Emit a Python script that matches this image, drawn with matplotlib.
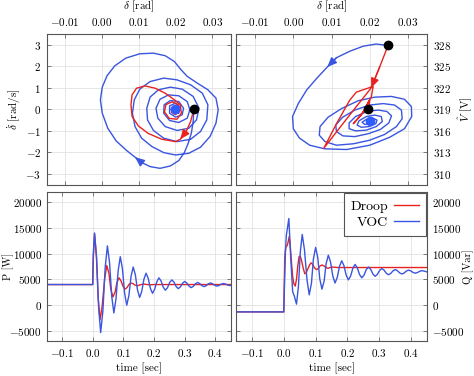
import matplotlib
matplotlib.use("Agg")
import matplotlib.pyplot as plt

plt.rcParams["font.family"] = ["cmr10", "DejaVu Serif"]
plt.rcParams["mathtext.fontset"] = "cm"
plt.rcParams["axes.formatter.use_mathtext"] = True
plt.rcParams["font.size"] = 8

RED = "#e8231f"
BLUE = "#3a55e0"

# top left: delta vs delta-dot
tl_voc_delta = [
    0.0250, 0.0248, 0.0243, 0.0234, 0.0224, 0.0209, 0.0186, 0.0158, 0.0131, 0.0108,
    0.0090, 0.0067, 0.0039, 0.0016, 0.0001, -0.0004, 0.0001, 0.0014, 0.0035, 0.0065,
    0.0103, 0.0140, 0.0172, 0.0197, 0.0215, 0.0232, 0.0259, 0.0288, 0.0310, 0.0316,
    0.0310, 0.0294, 0.0268, 0.0236, 0.0200, 0.0168, 0.0136, 0.0108, 0.0090, 0.0083,
    0.0088, 0.0103, 0.0131, 0.0168, 0.0204, 0.0241, 0.0273, 0.0288, 0.0285, 0.0268,
    0.0241, 0.0204, 0.0168, 0.0140, 0.0124, 0.0122, 0.0131, 0.0154, 0.0186, 0.0218,
    0.0248, 0.0264, 0.0257, 0.0236, 0.0204, 0.0172, 0.0152, 0.0147, 0.0158, 0.0181,
    0.0209, 0.0232, 0.0239, 0.0232, 0.0209, 0.0184, 0.0168, 0.0169, 0.0186, 0.0209,
    0.0222, 0.0218, 0.0200, 0.0184, 0.0184, 0.0200, 0.0213, 0.0209, 0.0195, 0.0188,
    0.0193, 0.0204, 0.0206, 0.0200,
]
tl_voc_ddot = [
    0.00, -0.57, -1.11, -1.60, -2.01, -2.38, -2.63, -2.74, -2.66, -2.47,
    -2.22, -1.91, -1.47, -0.88, -0.18, 0.44, 1.03, 1.56, 2.02, 2.38,
    2.58, 2.61, 2.49, 2.22, 1.84, 1.53, 1.22, 0.91, 0.52, -0.02,
    -0.64, -1.26, -1.76, -2.04, -2.12, -2.01, -1.73, -1.34, -0.80, -0.18,
    0.44, 0.94, 1.29, 1.45, 1.37, 1.14, 0.75, 0.21, -0.49, -1.03,
    -1.39, -1.50, -1.34, -0.98, -0.49, 0.05, 0.57, 0.91, 1.03, 0.94,
    0.60, 0.05, -0.49, -0.88, -0.98, -0.80, -0.41, 0.05, 0.47, 0.67,
    0.63, 0.36, -0.02, -0.41, -0.61, -0.52, -0.18, 0.21, 0.41, 0.36,
    0.05, -0.26, -0.36, -0.18, 0.16, 0.29, 0.10, -0.18, -0.21, 0.00,
    0.12, 0.08, -0.06, 0.00,
]
tl_droop_delta = [
    0.0250, 0.0241, 0.0229, 0.0213, 0.0200, 0.0163, 0.0126, 0.0099, 0.0082, 0.0079,
    0.0082, 0.0094, 0.0117, 0.0145, 0.0172, 0.0195, 0.0213, 0.0216, 0.0204, 0.0183,
    0.0170, 0.0174, 0.0191, 0.0207, 0.0211, 0.0200, 0.0189, 0.0191, 0.0200,
]
tl_droop_ddot = [
    0.00, -0.57, -1.03, -1.39, -1.50, -1.39, -1.12, -0.77, -0.33, 0.21,
    0.67, 0.98, 1.09, 0.98, 0.75, 0.47, 0.21, -0.18, -0.46, -0.42,
    -0.12, 0.22, 0.35, 0.21, -0.08, -0.24, -0.13, 0.06, 0.00,
]

# top right: delta vs V-hat
tr_voc_delta = [
    0.0248, 0.0217, 0.0183, 0.0148, 0.0113, 0.0089, 0.0061, 0.0035, 0.0013, -0.0002,
    0.0000, 0.0016, 0.0043, 0.0082, 0.0139, 0.0200, 0.0252, 0.0291, 0.0310, 0.0309,
    0.0291, 0.0257, 0.0213, 0.0170, 0.0126, 0.0091, 0.0070, 0.0068, 0.0083, 0.0113,
    0.0157, 0.0200, 0.0239, 0.0270, 0.0285, 0.0283, 0.0265, 0.0235, 0.0200, 0.0161,
    0.0129, 0.0111, 0.0113, 0.0130, 0.0161, 0.0196, 0.0228, 0.0250, 0.0257, 0.0245,
    0.0222, 0.0193, 0.0163, 0.0146, 0.0146, 0.0163, 0.0191, 0.0217, 0.0233, 0.0230,
    0.0213, 0.0191, 0.0172, 0.0167, 0.0178, 0.0198, 0.0216, 0.0219, 0.0207, 0.0191,
    0.0180, 0.0187, 0.0202, 0.0209, 0.0200,
]
tr_voc_v = [
    327.9, 328.1, 327.8, 327.1, 326.2, 324.9, 323.3, 321.7, 319.8, 318.0,
    316.3, 315.0, 314.0, 313.5, 313.4, 314.0, 315.1, 316.3, 318.0, 319.4,
    320.4, 320.8, 320.7, 320.2, 319.1, 317.9, 316.6, 315.4, 314.5, 314.0,
    314.2, 314.7, 315.5, 316.6, 317.7, 318.9, 319.6, 319.8, 319.6, 318.9,
    317.9, 316.8, 315.9, 315.3, 315.2, 315.6, 316.2, 317.1, 318.1, 318.7,
    318.9, 318.7, 318.0, 317.1, 316.3, 316.0, 316.1, 316.6, 317.3, 318.0,
    318.2, 318.0, 317.4, 316.8, 316.5, 316.6, 317.0, 317.5, 317.8, 317.6,
    317.2, 316.9, 317.0, 317.4, 317.4,
]
tr_droop_delta = [
    0.0248, 0.0226, 0.0204, 0.0143, 0.0080, 0.0113, 0.0148, 0.0165, 0.0209, 0.0204,
    0.0196, 0.0187, 0.0157, 0.0178, 0.0200, 0.0198, 0.0196,
]
tr_droop_v = [
    327.9, 324.9, 322.0, 317.9, 313.6, 317.0, 320.3, 321.4, 322.2, 320.7,
    320.0, 318.9, 317.0, 318.2, 320.3, 319.4, 319.0,
]

# bottom: time series
t_p_voc = [
    -0.15, 0.000, 0.002, 0.006, 0.0127, 0.0193, 0.026, 0.0333, 0.0407, 0.048,
    0.055, 0.062, 0.069, 0.076, 0.083, 0.090, 0.097, 0.104, 0.111, 0.118,
    0.125, 0.132, 0.139, 0.146, 0.153, 0.160, 0.167, 0.174, 0.181, 0.188,
    0.195, 0.202, 0.209, 0.216, 0.223, 0.230, 0.237, 0.244, 0.251, 0.258,
    0.265, 0.272, 0.279, 0.286, 0.293, 0.300, 0.307, 0.314, 0.321, 0.328,
    0.335, 0.342, 0.349, 0.356, 0.363, 0.370, 0.377, 0.384, 0.391, 0.398,
    0.405, 0.412, 0.419, 0.426, 0.433, 0.440, 0.447, 0.45,
]
p_voc = [
    4000, 4000, 10000, 14000, 9175, -475, -5300, -1100, 7300, 11500,
    8250, 1750, -1500, 1225, 6675, 9400, 7050, 2350, 0, 1850,
    5550, 7400, 5925, 2975, 1500, 2675, 5025, 6200, 5225, 3275,
    2300, 3050, 4550, 5300, 4700, 3500, 2900, 3400, 4400, 4900,
    4475, 3625, 3200, 3550, 4250, 4600, 4300, 3700, 3400, 3650,
    4150, 4400, 4200, 3800, 3600, 3775, 4125, 4300, 4150, 3850,
    3700, 3825, 4075, 4200, 4100, 3900, 3800, 3850,
]
t_p_droop = [
    -0.15, 0.000, 0.002, 0.006, 0.012, 0.018, 0.024, 0.031, 0.039, 0.046,
    0.053, 0.059, 0.066, 0.073, 0.079, 0.086, 0.092, 0.099, 0.105, 0.112,
    0.118, 0.125, 0.132, 0.138, 0.145, 0.155, 0.165, 0.185, 0.200, 0.45,
]
p_droop = [
    4000, 4000, 9000, 13800, 9650, 1350, -2800, -175, 5075, 7700,
    6175, 3125, 1600, 2525, 4375, 5300, 4750, 3650, 3100, 3400,
    4000, 4300, 4160, 3890, 3750, 3950, 4100, 3950, 4000, 4000,
]
t_q_voc = [
    -0.15, 0.000, 0.005, 0.008, 0.016, 0.022, 0.028, 0.033, 0.040, 0.046,
    0.052, 0.058, 0.065, 0.073, 0.080, 0.087, 0.093, 0.100, 0.107, 0.113,
    0.120, 0.127, 0.133, 0.140, 0.147, 0.154, 0.161, 0.168, 0.175, 0.182,
    0.189, 0.196, 0.203, 0.210, 0.217, 0.224, 0.231, 0.238, 0.245, 0.252,
    0.259, 0.266, 0.273, 0.280, 0.287, 0.294, 0.301, 0.308, 0.315, 0.322,
    0.329, 0.336, 0.343, 0.350, 0.357, 0.364, 0.371, 0.378, 0.385, 0.392,
    0.399, 0.406, 0.413, 0.420, 0.427, 0.434, 0.441, 0.45,
]
q_voc = [
    -1300, -1300, 10000, 13500, 16800, 9000, 2600, 1800, 200, 3575,
    10325, 13700, 10775, 4925, 2000, 4300, 8900, 11200, 9175, 5125,
    3100, 4750, 8050, 9700, 8350, 5650, 4300, 5375, 7525, 8600,
    7675, 5825, 4900, 5650, 7150, 7900, 7250, 5950, 5300, 5825,
    6875, 7400, 6950, 6050, 5600, 5975, 6725, 7100, 6800, 6200,
    5900, 6150, 6650, 6900, 6690, 6260, 6050, 6240, 6610, 6800,
    6650, 6350, 6200, 6325, 6575, 6700, 6600, 6450,
]
t_q_droop = [
    -0.15, 0.000, 0.003, 0.006, 0.011, 0.014, 0.017, 0.020, 0.024, 0.028,
    0.032, 0.036, 0.040, 0.044, 0.048, 0.052, 0.056, 0.061, 0.066, 0.070,
    0.076, 0.082, 0.086, 0.091, 0.097, 0.103, 0.108, 0.114, 0.120, 0.126,
    0.133, 0.139, 0.146, 0.152, 0.160, 0.170, 0.45,
]
q_droop = [
    -1300, -1300, 9000, 11200, 11600, 12300, 13300, 11800, 8500, 5500,
    4100, 3700, 5000, 7600, 9400, 9500, 8600, 7200, 6100, 6200,
    7100, 7900, 8200, 7900, 7200, 6900, 7100, 7600, 7800, 7600,
    7300, 7150, 7300, 7400, 7350, 7300, 7300,
]


def style(ax):
    ax.grid(True, color="#e2e2e2", lw=0.6)
    ax.set_axisbelow(True)
    for s in ax.spines.values():
        s.set_color("#555555")
        s.set_linewidth(0.8)
    ax.tick_params(direction="in", length=3, width=0.6, color="#666666",
                   top=True, bottom=True, left=True, right=True, pad=4)


def arrow(ax, xs, ys, i, color):
    ax.annotate("", xy=(xs[i], ys[i]), xytext=(xs[i - 1], ys[i - 1]),
                arrowprops=dict(arrowstyle="-|>,head_length=0.7,head_width=0.3",
                                color=color, lw=1, shrinkA=0, shrinkB=0))


fig = plt.figure(figsize=(4.74, 3.76), dpi=100)
ax_tl = fig.add_axes([0.0985, 0.5088, 0.3882, 0.4008])
ax_tr = fig.add_axes([0.4979, 0.5088, 0.4030, 0.4008])
ax_bl = fig.add_axes([0.0985, 0.0923, 0.3882, 0.3979])
ax_br = fig.add_axes([0.4979, 0.0923, 0.4030, 0.3979])

for ax in (ax_tl, ax_tr, ax_bl, ax_br):
    style(ax)

# top left
ax_tl.plot(tl_voc_delta, tl_voc_ddot, color=BLUE, lw=1.0)
ax_tl.plot(tl_droop_delta, tl_droop_ddot, color=RED, lw=1.0)
arrow(ax_tl, tl_voc_delta, tl_voc_ddot, 10, BLUE)
arrow(ax_tl, tl_droop_delta, tl_droop_ddot, 3, RED)
ax_tl.plot(tl_voc_delta[-1], tl_voc_ddot[-1], "o", color="#2f5cff", ms=6)
ax_tl.plot(tl_voc_delta[0], tl_voc_ddot[0], "o", color="black", ms=6)
ax_tl.set_xlim(-0.015, 0.035)
ax_tl.set_ylim(-3.5, 3.5)
ax_tl.set_xticks([-0.01, 0, 0.01, 0.02, 0.03])
ax_tl.set_yticks([-3, -2, -1, 0, 1, 2, 3])
ax_tl.tick_params(labeltop=True, labelbottom=False)
ax_tl.xaxis.set_label_position("top")
ax_tl.set_xlabel(r"$\delta$ [rad]", labelpad=5)
ax_tl.set_ylabel(r"$\dot{\delta}$ [rad/s]", labelpad=2)

# top right
ax_tr.plot(tr_voc_delta, tr_voc_v, color=BLUE, lw=1.0)
ax_tr.plot(tr_droop_delta, tr_droop_v, color=RED, lw=1.0)
arrow(ax_tr, tr_voc_delta, tr_voc_v, 5, BLUE)
arrow(ax_tr, tr_droop_delta, tr_droop_v, 2, RED)
ax_tr.plot(tr_voc_delta[-1], tr_voc_v[-1], "o", color="#2f5cff", ms=6)
ax_tr.plot(tr_droop_delta[-1], tr_droop_v[-1], "o", color="black", ms=6)
ax_tr.plot(tr_voc_delta[0], tr_voc_v[0], "o", color="black", ms=6)
ax_tr.set_xlim(-0.015, 0.035)
ax_tr.set_ylim(308.5, 329.5)
ax_tr.set_xticks([-0.01, 0, 0.01, 0.02, 0.03])
ax_tr.set_yticks([310, 313, 316, 319, 322, 325, 328])
ax_tr.tick_params(labeltop=True, labelbottom=False, labelleft=False, labelright=True)
ax_tr.xaxis.set_label_position("top")
ax_tr.yaxis.set_label_position("right")
ax_tr.set_xlabel(r"$\delta$ [rad]", labelpad=5)
ax_tr.set_ylabel(r"$\hat{V}$ [V]", labelpad=4)

# bottom left
ax_bl.plot(t_p_droop, p_droop, color=RED, lw=1.0)
ax_bl.plot(t_p_voc, p_voc, color=BLUE, lw=1.0)
ax_bl.set_xlim(-0.15, 0.45)
ax_bl.set_ylim(-7000, 22000)
ax_bl.set_xticks([-0.1, 0, 0.1, 0.2, 0.3, 0.4])
ax_bl.set_yticks([-5000, 0, 5000, 10000, 15000, 20000])
ax_bl.tick_params(axis="y", pad=3.5)
ax_bl.set_xlabel("time [sec]", labelpad=3)
ax_bl.set_ylabel("P [W]", fontsize=7.5)
ax_bl.yaxis.set_label_coords(-0.180, 0.5)

# bottom right
ax_br.plot(t_q_droop, q_droop, color=RED, lw=1.0, label="Droop")
ax_br.plot(t_q_voc, q_voc, color=BLUE, lw=1.0, label="VOC")
ax_br.set_xlim(-0.15, 0.45)
ax_br.set_ylim(-7000, 22000)
ax_br.set_xticks([-0.1, 0, 0.1, 0.2, 0.3, 0.4])
ax_br.set_yticks([-5000, 0, 5000, 10000, 15000, 20000])
ax_br.tick_params(labelleft=False, labelright=True)
ax_br.tick_params(axis="y", pad=3.5)
ax_br.yaxis.set_label_position("right")
ax_br.set_xlabel("time [sec]", labelpad=3)
ax_br.set_ylabel("Q [Var]", fontsize=7.5)
ax_br.yaxis.set_label_coords(1.188, 0.5)
leg = ax_br.legend(loc="upper right", markerfirst=False, fancybox=False,
                   borderaxespad=0.1, handlelength=1.8, fontsize=10,
                   framealpha=1, labelspacing=0.25, borderpad=0.5,
                   handletextpad=0.4)
leg.get_frame().set_edgecolor("#555555")
leg.get_frame().set_linewidth(0.8)
for txt in leg.get_texts():
    txt.set_ha("right")

fig.savefig("out.png", dpi=100)
